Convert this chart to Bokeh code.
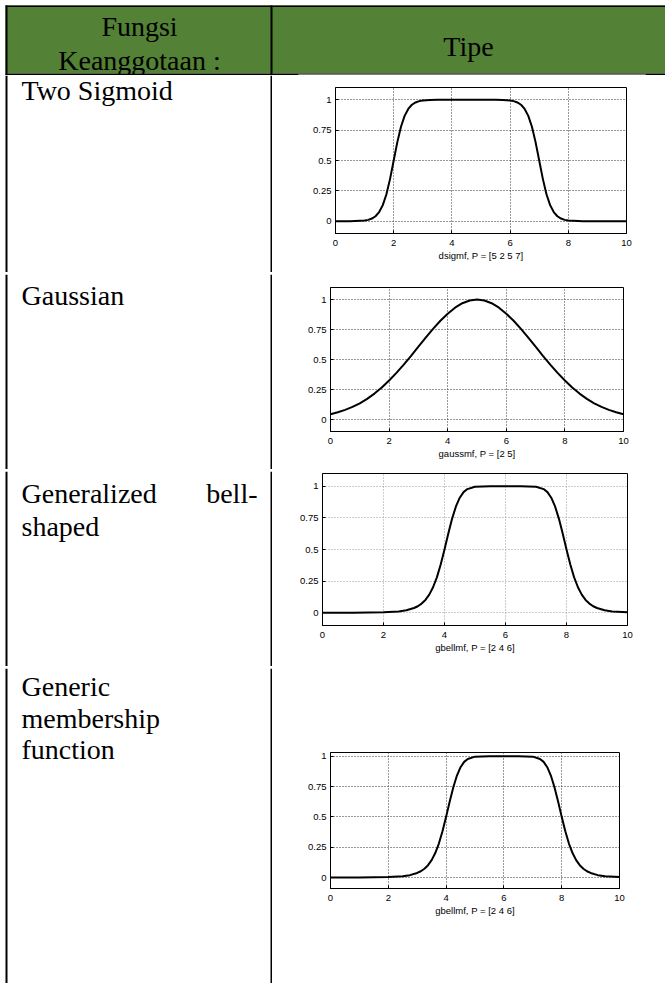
from bokeh.plotting import figure
from bokeh.layouts import row, column
from bokeh.models import Range1d, FixedTicker
from bokeh.core.properties import value
from bokeh.embed import file_html
from bokeh.resources import INLINE

# ---------------- data ----------------
header_left = ["Fungsi", "Keanggotaan :"]
header_right = "Tipe"
row_texts = [
    ["Two Sigmoid"],
    ["Gaussian"],
    ["Generalized", "bell-", "shaped"],
    ["Generic", "membership", "function"],
]

x_ticks = [0, 2, 4, 6, 8, 10]
y_ticks = [0, 0.25, 0.5, 0.75, 1]
y_tick_labels = ["0", "0.25", "0.5", "0.75", "1"]

dsig_x = [0, 0.5, 1, 1.125, 1.25, 1.375, 1.5, 1.625, 1.75, 1.875, 2, 2.125, 2.25, 2.375, 2.5,
          2.625, 2.75, 2.875, 3, 3.25, 3.5, 4, 5, 5.5, 5.75, 6, 6.125, 6.25, 6.375, 6.5, 6.625,
          6.75, 6.875, 7, 7.125, 7.25, 7.375, 7.5, 7.625, 7.75, 7.875, 8, 8.5, 9, 10]
dsig_y = [0, 0.001, 0.007, 0.012, 0.023, 0.042, 0.076, 0.133, 0.223, 0.349, 0.5, 0.651, 0.777,
          0.867, 0.924, 0.958, 0.977, 0.988, 0.993, 0.998, 0.999, 1, 1, 0.999, 0.998, 0.993,
          0.988, 0.977, 0.958, 0.924, 0.867, 0.777, 0.651, 0.5, 0.349, 0.223, 0.133, 0.076,
          0.042, 0.023, 0.012, 0.007, 0.001, 0, 0]

gauss_x = [0, 0.25, 0.5, 0.75, 1, 1.25, 1.5, 1.75, 2, 2.25, 2.5, 2.75, 3, 3.25, 3.5, 3.75, 4,
           4.25, 4.5, 4.75, 5, 5.25, 5.5, 5.75, 6, 6.25, 6.5, 6.75, 7, 7.25, 7.5, 7.75, 8, 8.25,
           8.5, 8.75, 9, 9.25, 9.5, 9.75, 10]
gauss_y = [0.044, 0.060, 0.080, 0.105, 0.135, 0.172, 0.216, 0.267, 0.325, 0.389, 0.458, 0.531,
           0.607, 0.682, 0.755, 0.823, 0.882, 0.932, 0.969, 0.992, 1.000, 0.992, 0.969, 0.932,
           0.882, 0.823, 0.755, 0.682, 0.607, 0.531, 0.458, 0.389, 0.325, 0.267, 0.216, 0.172,
           0.135, 0.105, 0.080, 0.060, 0.044]

gbell_x = [0, 1, 2, 2.5, 2.75, 3, 3.125, 3.25, 3.375, 3.5, 3.625, 3.75, 3.875, 4, 4.125, 4.25,
           4.375, 4.5, 4.625, 4.75, 5, 5.5, 6, 6.5, 7, 7.25, 7.375, 7.5, 7.625, 7.75, 7.875, 8,
           8.125, 8.25, 8.375, 8.5, 8.625, 8.75, 8.875, 9, 9.25, 9.5, 10]
gbell_y = [0.000, 0.001, 0.004, 0.011, 0.020, 0.038, 0.052, 0.073, 0.102, 0.144, 0.202, 0.280,
           0.381, 0.500, 0.626, 0.744, 0.840, 0.909, 0.953, 0.977, 0.996, 1.000, 1.000, 1.000,
           0.996, 0.977, 0.953, 0.909, 0.840, 0.744, 0.626, 0.500, 0.381, 0.280, 0.202, 0.144,
           0.102, 0.073, 0.052, 0.038, 0.020, 0.011, 0.004]

plot_xlabels = ["dsigmf, P = [5 2 5 7]", "gaussmf, P = [2 5]",
                "gbellmf, P = [2 4 6]", "gbellmf, P = [2 4 6]"]

# ---------------- style / layout ----------------
GREEN = "#538135"
SERIF = value("Liberation Serif")
TXT_SIZE = "28px"
X0, DIV_X, X1 = 0, 272, 665


def blank(ytop, ybot, x0=X0, x1=X1):
    p = figure(width=x1 - x0, height=ybot - ytop, x_range=Range1d(x0, x1),
               y_range=Range1d(ybot, ytop), x_axis_type=None, y_axis_type=None,
               output_backend="svg", toolbar_location=None, min_border=0,
               outline_line_color=None, background_fill_color="white",
               border_fill_color="white", frame_align=False)
    return p


def borders(p, ytop, ybot):
    # left table border and column divider
    p.quad(left=[5, 270], right=[7, 272], top=[ytop, ytop], bottom=[ybot, ybot],
           fill_color="black", line_color=None)


def hline(p, y, pieces):
    for a, b, t in pieces:
        p.quad(left=[a], right=[b], top=[y], bottom=[y + t], fill_color="black",
               line_color=None)


# header (includes the rule under it)
hdr = blank(0, 75)
hdr.quad(left=[5], right=[665], top=[5], bottom=[73], fill_color=GREEN, line_color=None)
hline(hdr, 5, [(5, 665, 1.5)])
borders(hdr, 5, 75)
hdr.text(x=[139, 139], y=[26, 60], text=header_left, text_font=SERIF,
         text_font_size=TXT_SIZE, text_align="center", text_baseline="alphabetic",
         text_color="black")
hdr.text(x=[468], y=[46], text=[header_right], text_font=SERIF, text_font_size=TXT_SIZE,
         text_align="center", text_baseline="alphabetic", text_color="black")
hline(hdr, 73, [(5, 298, 2), (298, 645, 1), (645, 665, 2)])


def separator(ytop, pieces):
    s = blank(ytop, ytop + 2)
    hline(s, ytop, pieces)
    borders(s, ytop, ytop + 2)
    return s


sep1 = separator(272, [(5, 298, 2), (298, 639, 1), (639, 665, 2)])
sep2 = separator(469, [(5, 287, 2), (287, 298, 1), (640, 665, 1)])
sep3 = separator(666, [(5, 287, 2), (287, 665, 1)])


def left_cell(ytop, ybot, xs, ys, texts, aligns):
    p = blank(ytop, ybot, X0, DIV_X)
    borders(p, ytop, ybot)
    p.text(x=xs, y=ys, text=texts, text_font=SERIF, text_font_size=TXT_SIZE,
           text_align=aligns, text_baseline="alphabetic", text_color="black")
    return p


def mini(h, xs, ys, xlabel, ylo, yhi, mb, grid_color):
    p = figure(width=X1 - DIV_X, height=h, x_range=Range1d(0, 10),
               y_range=Range1d(ylo, yhi), output_backend="svg", toolbar_location=None,
               min_border_left=mb[0], min_border_right=mb[1], min_border_top=mb[2],
               min_border_bottom=mb[3], outline_line_color="black", outline_line_width=1,
               outline_line_alpha=1, background_fill_color="white", border_fill_color="white",
               frame_align=False)
    p.line(xs, ys, line_color="black", line_width=2)
    p.xaxis.ticker = FixedTicker(ticks=x_ticks)
    p.yaxis.ticker = FixedTicker(ticks=y_ticks)
    p.yaxis.major_label_overrides = dict(zip(y_ticks, y_tick_labels))
    p.xaxis.axis_label = xlabel
    for ax in (p.xaxis[0], p.yaxis[0]):
        ax.axis_line_color = "black"
        ax.major_tick_in = 3
        ax.major_tick_out = 0
        ax.major_tick_line_color = "black"
        ax.minor_tick_line_color = None
        ax.major_label_text_font = "Liberation Sans"
        ax.major_label_text_font_size = "9.5px"
        ax.major_label_text_color = "black"
        ax.major_label_standoff = 4
    p.xaxis.major_label_standoff = 6
    p.xaxis.axis_label_text_font = "Liberation Sans"
    p.xaxis.axis_label_text_font_size = "9.5px"
    p.xaxis.axis_label_text_font_style = "normal"
    p.xaxis.axis_label_text_color = "black"
    p.xaxis.axis_label_standoff = 1
    for g in (p.xgrid[0], p.ygrid[0]):
        g.grid_line_color = grid_color
        g.grid_line_dash = "1 2"
        g.grid_line_width = 1
        g.grid_line_alpha = 1
    return p


row1 = row(left_cell(75, 272, [21], [90], row_texts[0], "left"),
           mini(197, dsig_x, dsig_y, plot_xlabels[0], -0.1, 1.1, (63, 39, 12, 39), "#333333"),
           spacing=0)
row2 = row(left_cell(274, 469, [21], [295], row_texts[1], "left"),
           mini(195, gauss_x, gauss_y, plot_xlabels[1], -0.1, 1.1, (58, 42, 13, 38), "#333333"),
           spacing=0)
row3 = row(left_cell(471, 666, [21, 257, 21], [493, 493, 526], row_texts[2],
                     ["left", "right", "left"]),
           mini(195, gbell_x, gbell_y, plot_xlabels[2], -0.1, 1.1, (50, 38, 2, 41), "#999999"),
           spacing=0)
row4 = row(left_cell(668, 983, [21, 21, 21], [686, 718, 749], row_texts[3],
                     ["left", "left", "left"]),
           mini(315, gbell_x, gbell_y, plot_xlabels[3], -0.09, 1.03, (58, 46, 84, 95), "#333333"),
           spacing=0)

page = column(hdr, row1, sep1, row2, sep2, row3, sep3, row4, spacing=0)

open("out.html", "w").write(file_html(page, INLINE))
